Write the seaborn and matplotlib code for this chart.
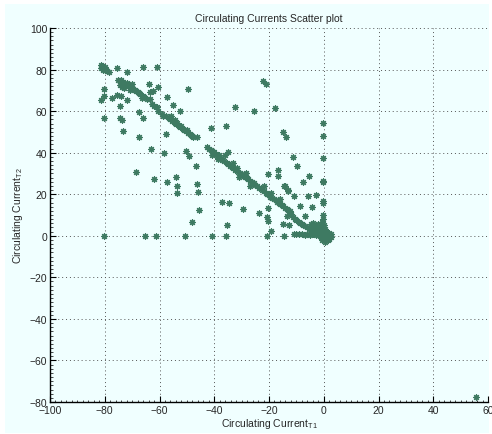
import matplotlib
matplotlib.use("Agg")
import matplotlib.pyplot as plt
from matplotlib.patches import Rectangle
from matplotlib.ticker import MultipleLocator
import seaborn as sns
import pandas as pd

# ---- data ----
upper_x = [-81.5, -81, -80.5, -80, -79.5, -79, -80.8, -79.8, -78.5, -81.2,
           -75.6, -72, -65.9, -60.8,
           -75, -74.5, -74, -74.2, -73.5, -73, -72.5, -72, -71.5, -71, -70.5, -70,
           -69.5, -69, -68.5, -68, -67.5, -67, -66, -65.5, -64.5, -63.5, -73.8,
           -72.8, -74.6, -70.8, -70.2, -66.5]
upper_y = [82, 81.5, 81, 80.5, 80, 79.5, 80, 81.2, 79, 80.7,
           80.6, 78.7, 81.1, 81.2,
           75, 74.5, 74.8, 73.5, 74, 73.2, 72.8, 73.5, 72, 72.5, 71.5, 71,
           70.8, 70.2, 69.5, 69.2, 68.5, 68, 67.5, 66.8, 66, 66, 71.5,
           71.2, 72.8, 70, 73.2, 66.5]

mid_x = [-62, -61, -60.4, -59.2, -58.6, -57.5, -56.5, -56, -55.5, -55, -54.5, -54,
         -53.5, -53, -52.5, -52, -51.5, -51, -50.5, -50, -49.5, -49, -48.5, -48,
         -47.7, -46.4, -55.8, -54.2]
mid_y = [62.5, 62, 60.2, 58.6, 57.8, 57.5, 56.8, 56, 55.2, 55.8, 54.5, 53.8,
         54.2, 53, 52.4, 52.8, 51.5, 51, 50.2, 50.8, 49.6, 49, 48.5, 48,
         47.4, 47.5, 57.8, 55.6]

line_x = [-42.8, -42, -41.3, -40.5, -40, -39.5, -39, -38.2, -37.5, -37, -36.3,
          -35.5, -35, -34.2, -33.5, -33, -32.3, -31.8, -31.2, -30.5, -30, -29.3,
          -28.8, -28, -27.5, -26.9, -26.2, -25.5, -25, -24.3, -23.8, -23, -22.5,
          -21.8, -21.2, -20.8, -20, -19.5, -18.8, -18.2, -17.5, -17, -16.3, -15.8,
          -15.2, -14.8, -14.2, -13.5, -13, -12.5, -11.8, -11.1, -10.5, -10, -9.2,
          -8.5, -7.8, -7, -6.2, -5.5, -4.8, -4, -3.2, -2.5, -1.4, -36, -33.2,
          -28.5, -22, -41, -38.5, -30.8, -26.8, -19.2, -16]
line_y = [42.6, 41.8, 41.5, 40.2, 40.5, 39.3, 38.5, 38.8, 37.2, 36.5, 36,
          35.2, 34.5, 33.7, 33.2, 32.5, 31.8, 32.4, 30.8, 30.2, 29.5, 29,
          28.2, 27.8, 27.2, 26.5, 25.8, 25.2, 24.5, 24, 23.2, 22.8, 22,
          21.5, 20.8, 20.1, 19.5, 18.8, 18.2, 17.5, 17, 16.3, 15.8, 15.2,
          14.8, 14.5, 13.5, 12.8, 12.2, 11.2, 10.5, 8.9, 8.2, 7.5, 6.8,
          6.2, 5.5, 4.8, 4.1, 3.5, 2.8, 2.2, 1.5, 1, 0, 39, 34.8,
          30, 23.8, 38.8, 36.8, 28.2, 24, 20.5, 17.5]

scatter_x = [-80.3, -80.3, -81.5, -77.5, -75.6, -74.2, -72, -74.4, -80.3, -74.4,
             -73.8, -73.2, -67.5, -67.4, -65.9, -64, -63.5, -62.3, -60.4, -62.9,
             -57.1, -55, -52.5, -49.5, -57.7, -63.1, -58.2, -50.3, -49.3, -46.7,
             -68.6, -62, -57.4, -54, -53.7, -53.5, -46.4, -45.8, -41.3, -35.7,
             -32.4, -25.4, -17.8, -22.1, -21.1, -14.8, -13.8, -11.1, -9.9, -34.9,
             -20.3, -16.8, -16.6, -14.2, -12.9, -0.4, -0.4, -5.3, -0.4, -0.4,
             -0.4, -7.7, -2.8, -5.6, -0.4, -0.4, -14.4, -13.2, -10.8, -8.7,
             -4.4, -6.8, -12.3, -13.5, -14.8, -12.6, -7.7, -45.5, -48.3, -37.3,
             -34.6, -29.4, -35.5, -23.5, -20.5, -20.8, -20.3, -19.4, 55.5]
scatter_y = [70.6, 67.4, 65.5, 66.2, 67.9, 67.1, 65.5, 62.6, 56.5, 56.5,
             55.7, 50.3, 47.4, 59.4, 56.7, 73, 69, 69.8, 71.6, 63.4,
             67, 62.9, 60.2, 70.6, 49.2, 41.8, 39.9, 41, 38.6, 33.7,
             30.9, 27.3, 25.7, 28.4, 24.1, 20.6, 24.9, 20.9, 51.7, 53,
             61.8, 59.9, 61.4, 74.6, 73, 49.8, 47.4, 37.8, 33.7, 40.2,
             29.7, 31.8, 28.9, 24.1, 21.7, 54.1, 48.2, 28.9, 37.4, 26.5,
             25.7, 25.7, 19.8, 19.3, 16.9, 15.8, 23.8, 22.2, 19, 14.5,
             13.7, 9.4, 12.1, 9.7, 5.7, 5.2, 5.2, 12.4, 6.5, 16.4,
             15.6, 12.9, 5.2, 10.8, 13.4, 8.9, 7.3, 2.5, -77.4]

zero_x = [-80.3, -65.3, -61.3, -50.7, -40.9, -35.7, -20.6, -14.5,
          -11, -10, -9, -8, -7, -6, -5, -4, -3, -2]
zero_y = [0, 0, 0, 0, 0, 0, 0, 0,
          1, 0.8, 0.7, 1, 0.6, 0.8, 0.5, 0.7, 0.4, 0.5]

origin_x = [-4.5, -3.8, -3, -2, -1, 0, -0.8, 0.5, 1, -1.5, -0.5, 0, 1.5, 2, 2.5,
            2.8, 1, 0, -1, -0.5, 0.5, 1.5, 2, -1.5, 0.3, 0.8, -0.2, 1.2, -2.5,
            -3.5, -4.2, 0, 1.8, -0.4, -0.4]
origin_y = [5.5, 6.2, 4.8, 5.5, 4.5, 5, 6.4, 3.5, 2, 3, 2, 1, 0.5, 0, -0.5,
            0.8, -1, -1.5, -0.5, -2.2, -2.8, -2, -1.5, 1.5, 0.2, 0.5, -0.5, 1.2, 3.5,
            2.8, 4, 3, 1.5, 10, 8]

x_ticks = [-100, -80, -60, -40, -20, 0, 20, 40, 60]
y_ticks = [-80, -60, -40, -20, 0, 20, 40, 60, 80, 100]

title = "Circulating Currents Scatter plot"
xlabel = "Circulating Current$_{\\mathrm{T1}}$"
ylabel = "Circulating Current$_{\\mathrm{T2}}$"

df = pd.DataFrame({
    "x": upper_x + mid_x + line_x + scatter_x + zero_x + origin_x,
    "y": upper_y + mid_y + line_y + scatter_y + zero_y + origin_y,
})

# ---- styling ----
sns.set_style("ticks")
plt.rcParams["font.family"] = ["Liberation Sans", "DejaVu Sans"]
plt.rcParams["mathtext.fontset"] = "custom"
plt.rcParams["mathtext.rm"] = "Liberation Sans"
plt.rcParams["mathtext.it"] = "Liberation Sans"

bg = "#F0FFFF"
mark = "#3E7A62"

fig = plt.figure(figsize=(4.92, 4.35), dpi=100)
fig.patch.set_facecolor("white")
fig.patches.append(Rectangle((5 / 492, 1 / 435), 484 / 492, 429 / 435,
                             transform=fig.transFigure, facecolor=bg,
                             edgecolor="none", zorder=-10))
ax = fig.add_axes([50 / 492, 32 / 435, 438 / 492, 374 / 435])
ax.set_facecolor(bg)

sns.scatterplot(data=df, x="x", y="y", marker=(8, 2, 0), s=18, color=mark,
                linewidth=0.85, ax=ax, zorder=3)

ax.set_xlim(-100, 60)
ax.set_ylim(-80, 100)
ax.set_xticks(x_ticks)
ax.set_yticks(y_ticks)
ax.set_xticklabels([str(t).replace("-", "\u2212") for t in x_ticks])
ax.set_yticklabels([str(t).replace("-", "\u2212") for t in y_ticks])
ax.xaxis.set_minor_locator(MultipleLocator(2))
ax.yaxis.set_minor_locator(MultipleLocator(2))
ax.tick_params(axis="both", which="major", direction="in", length=4,
               width=0.8, labelsize=7.5, pad=2, color="black")
ax.tick_params(axis="both", which="minor", direction="in", length=1.8,
               width=0.5, color="black")
ax.grid(True, which="major", linestyle=(0, (1, 3)), color="#555555", linewidth=0.7)
ax.set_axisbelow(True)
for s in ["top", "right"]:
    ax.spines[s].set_visible(False)
for s in ["left", "bottom"]:
    ax.spines[s].set_linewidth(1.0)
    ax.spines[s].set_color("black")

ax.set_title(title, fontsize=7.5, pad=5)
ax.set_xlabel(xlabel, fontsize=7.5, labelpad=1)
ax.set_ylabel(ylabel, fontsize=7.5, labelpad=3)

fig.savefig("out.png", dpi=100, facecolor=fig.get_facecolor())
